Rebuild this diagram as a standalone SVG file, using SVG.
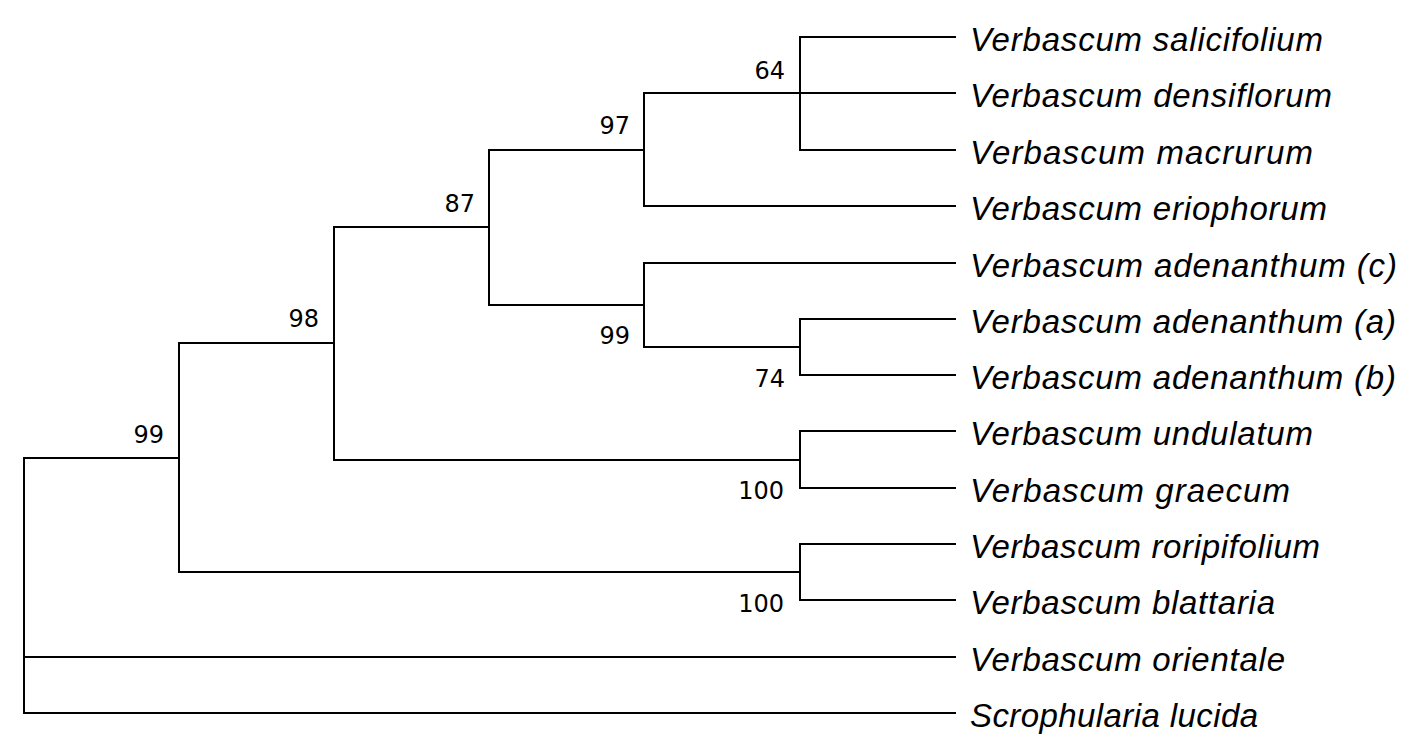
<svg xmlns="http://www.w3.org/2000/svg" width="1421" height="754" viewBox="0 0 1421 754">
<style>
.br{fill:none;stroke:#000;stroke-width:2;stroke-linejoin:miter;stroke-linecap:square}
.tx{font-family:"Liberation Sans",Arial,sans-serif;font-style:italic;font-size:33px;fill:#000}
.bs{font-family:"DejaVu Sans",Verdana,sans-serif;font-size:24px;fill:#000;text-anchor:end}
</style>
<rect width="1421" height="754" fill="#fff"/>
<g id="connectors">
<path class="br" d="M955,37 H800 V150 H955"/>
<path class="br" d="M644,93 H955"/>
<path class="br" d="M800,93 H644 V206 H955"/>
<path class="br" d="M644,150 H489 V305 H644"/>
<path class="br" d="M955,263 H644 V347 H800"/>
<path class="br" d="M955,319 H800 V375 H955"/>
<path class="br" d="M489,227 H334 V460 H800"/>
<path class="br" d="M955,431 H800 V488 H955"/>
<path class="br" d="M334,343 H179 V572 H800"/>
<path class="br" d="M955,544 H800 V600 H955"/>
<path class="br" d="M179,458 H24 V713 H955"/>
<path class="br" d="M24,657 H955"/>
</g>
<g id="leaf-salicifolium"><text class="tx" x="970" y="51" textLength="353" lengthAdjust="spacing">Verbascum salicifolium</text></g>
<g id="leaf-densiflorum"><text class="tx" x="970" y="107" textLength="362" lengthAdjust="spacing">Verbascum densiflorum</text></g>
<g id="leaf-macrurum"><text class="tx" x="970" y="164" textLength="343" lengthAdjust="spacing">Verbascum macrurum</text></g>
<g id="leaf-eriophorum"><text class="tx" x="970" y="220" textLength="357" lengthAdjust="spacing">Verbascum eriophorum</text></g>
<g id="leaf-adenanthum-c"><text class="tx" x="970" y="277" textLength="427" lengthAdjust="spacing">Verbascum adenanthum (c)</text></g>
<g id="leaf-adenanthum-a"><text class="tx" x="970" y="333" textLength="426" lengthAdjust="spacing">Verbascum adenanthum (a)</text></g>
<g id="leaf-adenanthum-b"><text class="tx" x="970" y="389" textLength="426" lengthAdjust="spacing">Verbascum adenanthum (b)</text></g>
<g id="leaf-undulatum"><text class="tx" x="970" y="445" textLength="343" lengthAdjust="spacing">Verbascum undulatum</text></g>
<g id="leaf-graecum"><text class="tx" x="970" y="502" textLength="320" lengthAdjust="spacing">Verbascum graecum</text></g>
<g id="leaf-roripifolium"><text class="tx" x="970" y="558" textLength="350" lengthAdjust="spacing">Verbascum roripifolium</text></g>
<g id="leaf-blattaria"><text class="tx" x="970" y="614" textLength="305" lengthAdjust="spacing">Verbascum blattaria</text></g>
<g id="leaf-orientale"><text class="tx" x="970" y="671" textLength="315" lengthAdjust="spacing">Verbascum orientale</text></g>
<g id="leaf-scrophularia"><text class="tx" x="970" y="727" textLength="288" lengthAdjust="spacing">Scrophularia lucida</text></g>
<g id="node-64"><text class="bs" x="785" y="79">64</text></g>
<g id="node-97"><text class="bs" x="630" y="134">97</text></g>
<g id="node-87"><text class="bs" x="475" y="212">87</text></g>
<g id="node-98"><text class="bs" x="319" y="327">98</text></g>
<g id="node-99-outer"><text class="bs" x="164" y="443">99</text></g>
<g id="node-99-adenanthum"><text class="bs" x="630" y="344">99</text></g>
<g id="node-74"><text class="bs" x="785" y="387">74</text></g>
<g id="node-100-undulatum"><text class="bs" x="784" y="499">100</text></g>
<g id="node-100-roripifolium"><text class="bs" x="784" y="612">100</text></g>
</svg>
